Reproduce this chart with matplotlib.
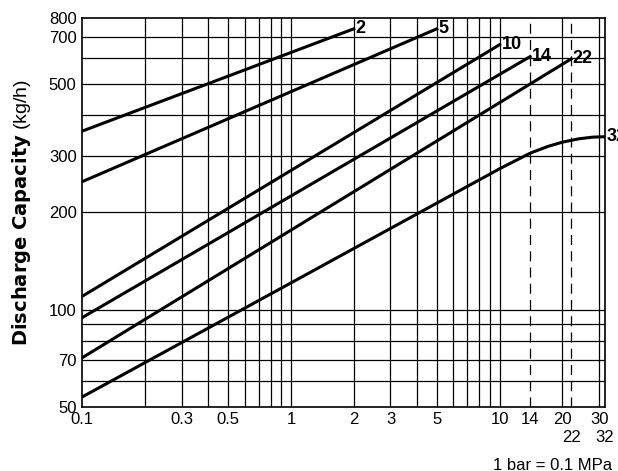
import numpy as np
import matplotlib.pyplot as plt
from matplotlib.ticker import FixedLocator, NullLocator

plt.rcParams['font.family'] = ['Liberation Sans', 'DejaVu Sans']

# curves: (pressure bar, capacity kg/h)
names = ['2', '5', '10', '14', '22', '32']
xs = [[0.1, 2], [0.1, 5], [0.1, 10], [0.1, 14], [0.1, 22],
      [0.1, 1, 10, 14, 17, 20, 24, 28, 32]]
ys = [[357, 740], [249, 740], [110, 661], [94.5, 607], [71, 597],
      [53.7, 121, 273, 305, 320, 330, 338, 342, 343]]

xgrid = [0.2, 0.3, 0.4, 0.5, 0.6, 0.7, 0.8, 0.9, 1, 2, 3, 4, 5, 6, 7, 8, 9, 10, 20, 30]
ygrid = [60, 70, 80, 90, 100, 200, 300, 400, 500, 600, 700]
xticks = [0.1, 0.3, 0.5, 1, 2, 3, 5, 10, 14, 20, 30]
yticks = [50, 70, 100, 200, 300, 500, 700, 800]

fig = plt.figure(figsize=(6.18, 4.71), dpi=100)
ax = fig.add_axes([0.133, 0.136, 0.846, 0.826])
ax.set_xscale('log')
ax.set_yscale('log')
ax.set_xlim(0.1, 32)
ax.set_ylim(50, 800)

for g in xgrid:
    ax.axvline(g, color='black', lw=0.9)
for g in ygrid:
    ax.axhline(g, color='black', lw=0.9)
for g in [14, 22]:
    ax.axvline(g, color='black', lw=0.9, ls=(0, (8, 5)))

for n, x, y in zip(names, xs, ys):
    ax.plot(x, y, color='black', lw=2.2)
    ax.text(x[-1] * 1.02, y[-1], n, fontsize=13, fontweight='bold',
            ha='left', va='center', clip_on=False)

ax.xaxis.set_major_locator(FixedLocator(xticks))
ax.xaxis.set_minor_locator(NullLocator())
ax.set_xticklabels([str(t) for t in xticks])
ax.yaxis.set_major_locator(FixedLocator(yticks))
ax.yaxis.set_minor_locator(NullLocator())
ax.set_yticklabels([str(t) for t in yticks])
ax.tick_params(length=0, labelsize=12, pad=4)
for s in ax.spines.values():
    s.set_linewidth(1.2)

for v in [22, 32]:
    ax.text(v, -0.058, str(v), transform=ax.get_xaxis_transform(),
            ha='center', va='top', fontsize=12)

fig.text(0.035, 0.55, r'$\bf{Discharge\ Capacity}$ (kg/h)', rotation=90,
         ha='center', va='center', fontsize=14)
fig.text(0.99, 0.012, '1 bar = 0.1 MPa', ha='right', va='center', fontsize=12)

fig.savefig('out.png')
